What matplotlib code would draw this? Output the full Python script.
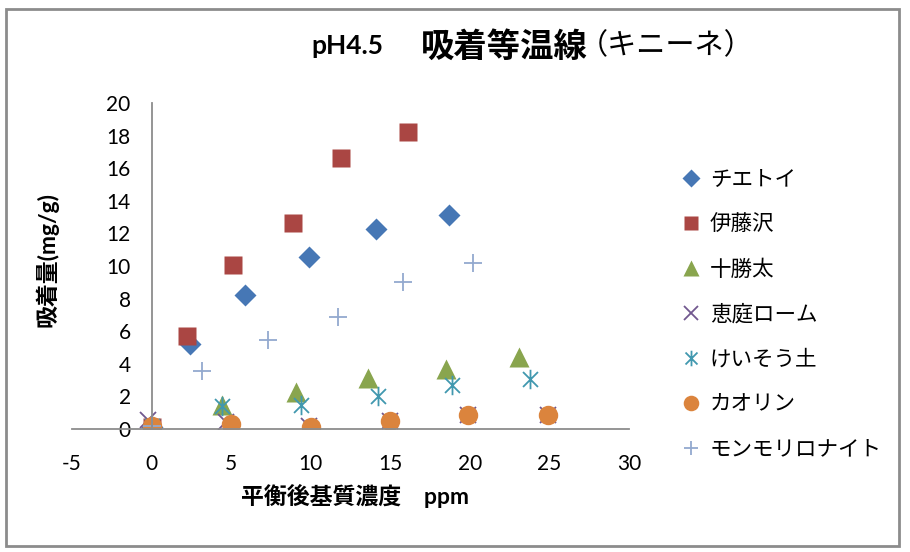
import matplotlib
matplotlib.use("Agg")
import matplotlib.pyplot as plt
from matplotlib.path import Path
from matplotlib.patches import Rectangle

plt.rcParams['font.family'] = ['Lato', 'Noto Sans CJK JP', 'DejaVu Sans']
plt.rcParams['axes.unicode_minus'] = False

# data
chietoi_x = [0, 2.4, 5.9, 9.9, 14.1, 18.7]
chietoi_y = [0.1, 5.2, 8.25, 10.55, 12.3, 13.15]
itosawa_x = [0, 2.2, 5.1, 8.9, 11.9, 16.1]
itosawa_y = [0.1, 5.7, 10.05, 12.65, 16.65, 18.25]
tokachi_x = [0, 4.4, 9.1, 13.6, 18.5, 23.1]
tokachi_y = [0.2, 1.5, 2.25, 3.15, 3.7, 4.4]
eniwa_x = [-0.2, 4.7, 9.9, 15.0, 19.9, 24.9]
eniwa_y = [0.55, 0.4, 0.2, 0.5, 0.85, 0.85]
keisou_x = [0, 4.4, 9.4, 14.2, 18.9, 23.8]
keisou_y = [0.2, 1.4, 1.45, 2.0, 2.7, 3.05]
kaolin_x = [0, 5.0, 10.0, 15.0, 19.9, 24.9]
kaolin_y = [0.2, 0.3, 0.15, 0.5, 0.85, 0.85]
mont_x = [0, 3.2, 7.3, 11.7, 15.8, 20.2]
mont_y = [0.2, 3.55, 5.45, 6.9, 9.0, 10.2]

labels = ['チエトイ', '伊藤沢', '十勝太', '恵庭ローム', 'けいそう土', 'カオリン', 'モンモリロナイト']

# Excel-like asterisk: x plus vertical line
star = Path([(-1, -1), (1, 1), (-1, 1), (1, -1), (0, -1.3), (0, 1.3)],
            [Path.MOVETO, Path.LINETO, Path.MOVETO, Path.LINETO, Path.MOVETO, Path.LINETO])

fig = plt.figure(figsize=(9.1, 5.52), dpi=100)
fig.patches.append(Rectangle((6 / 910, 1 - 546 / 552), 893 / 910, 537 / 552,
                             transform=fig.transFigure, fill=False,
                             edgecolor='#8c8c8c', linewidth=2))

ax = fig.add_axes([72 / 910, (552 - 429) / 552, 557 / 910, 326 / 552])

ax.plot(chietoi_x, chietoi_y, 'D', color='#4677B5', ms=11, mec='none', label=labels[0])
ax.plot(itosawa_x, itosawa_y, 's', color='#AA4643', ms=13, mec='none', label=labels[1])
ax.plot(tokachi_x, tokachi_y, '^', color='#89A54E', ms=14, mec='none', label=labels[2])
ax.plot(eniwa_x, eniwa_y, 'x', color='#71588F', ms=12, mew=1.3, label=labels[3])
ax.plot(keisou_x, keisou_y, marker=star, ls='none', color='#4198AF', ms=14, mew=1.3,
        label=labels[4])
ax.plot(kaolin_x, kaolin_y, 'o', color='#DB843D', ms=14, mec='none', label=labels[5])
ax.plot(mont_x, mont_y, '+', color='#93A9CF', ms=13, mew=1.3, label=labels[6])

ax.set_xlim(-5, 30)
ax.set_ylim(0, 20)
ax.set_xticks(range(-5, 31, 5))
ax.set_yticks(range(0, 21, 2))

for s in ['top', 'right']:
    ax.spines[s].set_visible(False)
ax.spines['left'].set_position(('data', 0))
ax.spines['bottom'].set_position(('data', 0))
for s in ['left', 'bottom']:
    ax.spines[s].set_color('#8c8c8c')
    ax.spines[s].set_linewidth(1.3)
ax.tick_params(axis='both', length=0, labelsize=15)
ax.tick_params(axis='x', pad=18)
ax.tick_params(axis='y', pad=15)
ax.patch.set_alpha(0)

ax.set_xlabel('平衡後基質濃度　ppm', fontsize=16.5, fontweight='bold')
ax.xaxis.set_label_coords(0.508, -0.17)
ax.set_ylabel('吸着量(mg/g)', fontsize=16.5, fontweight='bold')
ax.yaxis.set_label_coords(-0.025, 0.52)

ty = 1 - 46 / 552
fig.text(311 / 910, ty, 'pH4.5', fontsize=19, fontweight='bold', ha='left', va='center')
fig.text(421 / 910, ty, '吸着等温線', fontsize=24, fontweight='bold', ha='left', va='center')
fig.text(579 / 910, ty, '（キニーネ）', fontsize=21, ha='left', va='center',
         family=['Noto Sans CJK JP'])

ax.legend(loc='upper left', bbox_to_anchor=(672 / 910, 1 - 159 / 552),
          bbox_transform=fig.transFigure, frameon=False, fontsize=15.5,
          labelspacing=1.15, handlelength=0.8, handletextpad=0.45, borderpad=0,
          markerscale=0.8)

fig.savefig('out.png', dpi=100)
